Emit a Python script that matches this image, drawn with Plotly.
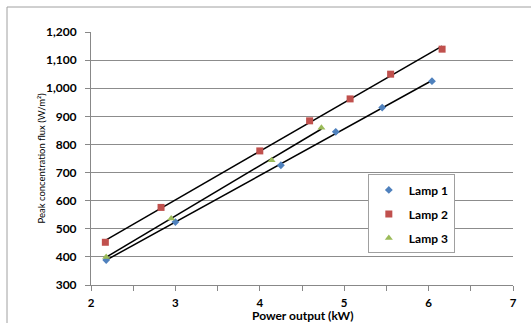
import numpy as np
import plotly.graph_objects as go

lamp1_x = [2.18, 3.0, 4.25, 4.9, 5.45, 6.04]
lamp1_y = [389, 524, 726, 845, 931, 1025]
lamp2_x = [2.17, 2.83, 4.0, 4.59, 5.07, 5.55, 6.16]
lamp2_y = [452, 576, 777, 884, 962, 1050, 1139]
lamp3_x = [2.18, 2.95, 4.14, 4.73]
lamp3_y = [400, 537, 744, 859]

series = [
    ("Lamp 1", lamp1_x, lamp1_y, "#4F81BD", "diamond", 6),
    ("Lamp 2", lamp2_x, lamp2_y, "#C0504D", "square", 7),
    ("Lamp 3", lamp3_x, lamp3_y, "#9BBB59", "triangle-up", 7),
]

FONT = "Lato"
fig = go.Figure()

# trendlines (linear least squares fit of each series)
for name, xs, ys, col, sym, sz in series:
    m, b = np.polyfit(xs, ys, 1)
    xl = np.array([min(xs), max(xs)])
    fig.add_trace(go.Scatter(x=xl, y=m * xl + b, mode="lines",
                             line=dict(color="black", width=1.5),
                             showlegend=False, hoverinfo="skip"))

for name, xs, ys, col, sym, sz in series:
    fig.add_trace(go.Scatter(x=xs, y=ys, mode="markers", name=name,
                             legendgroup=name,
                             marker=dict(color=col, symbol=sym, size=sz)))

fig.update_layout(
    width=531, height=323,
    margin=dict(l=91, r=18, t=32, b=38, autoexpand=False),
    paper_bgcolor="white", plot_bgcolor="white",
    font=dict(family=FONT, size=12, color="black"),
    legend=dict(x=0.656, y=0.437, xanchor="left", yanchor="top",
                bgcolor="white", bordercolor="#A0A0A0", borderwidth=1,
                font=dict(family=FONT, size=12, color="black", weight="bold"),
                itemwidth=30, tracegroupgap=5,
                entrywidth=50, entrywidthmode="pixels"),
    xaxis=dict(range=[2, 7], dtick=1, tick0=2, automargin=False,
               showgrid=False, zeroline=False,
               showline=True, linecolor="#888888", linewidth=1,
               ticks="outside", ticklen=5, tickcolor="#888888",
               minor=dict(dtick=0.5, ticks="outside", ticklen=5, tickcolor="#888888"),
               ticklabelstandoff=2,
               tickfont=dict(family=FONT, size=11.5, weight="bold")),
    yaxis=dict(range=[300, 1200], dtick=100, tick0=300, automargin=False,
               tickformat=",d",
               showgrid=True, gridcolor="#8C8C8C", gridwidth=1,
               zeroline=False,
               showline=True, linecolor="#888888", linewidth=1,
               ticks="outside", ticklen=5, tickcolor="#888888",
               ticklabelstandoff=6,
               tickfont=dict(family=FONT, size=12, weight="bold")),
    shapes=[dict(type="rect", xref="paper", yref="paper",
                 x0=(7 - 91) / 422, x1=1.2, y0=-0.3, y1=(285 - 7) / 253,
                 line=dict(color="#A0A0A0", width=1), layer="below")],
    annotations=[
        dict(text="Peak concentration flux (W/m²)", textangle=-90,
             xref="paper", yref="paper", x=(34 - 91) / 422, y=0.502,
             showarrow=False, font=dict(family=FONT, size=9.5, color="black")),
        dict(text="<b>Power output (kW)</b>", xref="paper", yref="paper",
             x=0.5, y=(285 - 315) / 253, xanchor="center", yanchor="middle",
             showarrow=False, font=dict(family=FONT, size=12, color="black")),
    ],
)

fig.write_html("out.html")
